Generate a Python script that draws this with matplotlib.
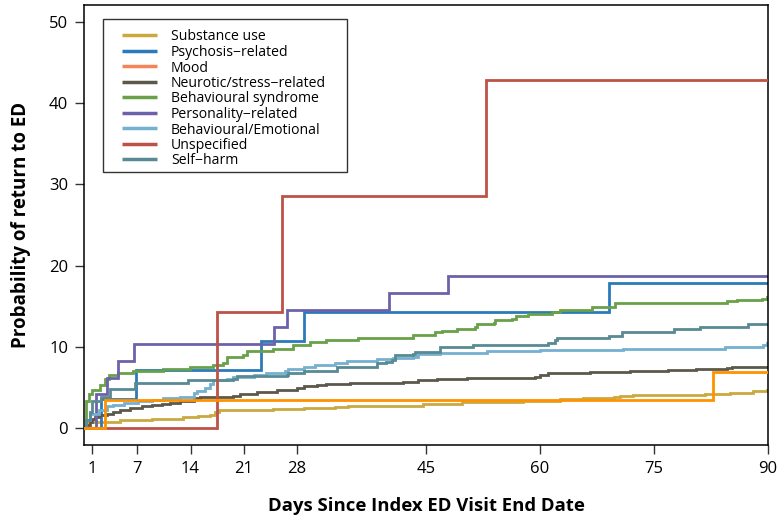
import matplotlib
matplotlib.use("Agg")
import matplotlib.pyplot as plt
from matplotlib.patches import Rectangle

plt.rcParams['font.family'] = ['Open Sans', 'DejaVu Sans']

# Cumulative probability (%) of return to ED by diagnostic group: step times (days) and levels
labels = ["Substance use", "Psychosis\u2212related", "Mood", "Neurotic/stress\u2212related",
          "Behavioural syndrome", "Personality\u2212related", "Behavioural/Emotional",
          "Unspecified", "Self\u2212harm"]

substance_days = [0, 0.3, 0.6, 4.7, 8.9, 10.4, 13.0, 15.0, 16.5, 17.2, 17.8, 21.0, 24.9, 28.9,
                  33.0, 34.7, 40.0, 44.6, 49.7, 57.8, 62.6, 65.7, 69.7, 70.6, 72.3, 81.7, 85.0,
                  88.1, 89.9]
substance_vals = [0, 0.6, 0.8, 1.0, 1.1, 1.2, 1.35, 1.5, 1.65, 2.0, 2.2, 2.3, 2.4, 2.5,
                  2.6, 2.7, 2.8, 3.0, 3.2, 3.35, 3.6, 3.7, 3.8, 4.0, 4.1, 4.2, 4.4,
                  4.55, 4.7]

psychosis_days = [0, 2.2, 6.8, 23.3, 29.0, 69.1]
psychosis_vals = [0, 3.57, 7.14, 10.71, 14.29, 17.86]

mood_days = [0, 2.75, 82.8]
mood_vals = [0, 3.45, 6.9]

neurotic_days = [0, 0.3, 0.7, 1.0, 1.4, 1.9, 3.0, 3.8, 4.7, 6.0, 7.6, 8.9, 10.2, 11.3, 12.6,
                 14.4, 15.3, 19.6, 20.5, 22.7, 25.4, 28.0, 28.9, 30.6, 31.9, 35.0, 42.0, 44.0,
                 46.4, 50.4, 55.2, 59.4, 60.0, 61.1, 66.6, 71.9, 74.9, 76.9, 80.6, 84.6, 85.3]
neurotic_vals = [0, 0.4, 0.8, 1.1, 1.35, 1.6, 1.8, 2.0, 2.25, 2.5, 2.7, 2.9, 3.0, 3.1, 3.4,
                 3.7, 3.85, 4.0, 4.2, 4.5, 4.7, 5.0, 5.2, 5.3, 5.5, 5.6, 5.7, 5.9,
                 6.05, 6.15, 6.25, 6.35, 6.55, 6.8, 6.9, 7.0, 7.1, 7.2, 7.3, 7.4, 7.5]

behav_syn_days = [0, 0.3, 0.6, 1.0, 2.1, 2.7, 3.2, 4.5, 6.4, 10.4, 13.9, 17.0, 18.3, 18.8,
                  20.9, 21.4, 24.9, 27.5, 29.7, 31.9, 36.0, 43.3, 46.2, 47.1, 49.1, 51.5,
                  51.7, 53.9, 54.1, 56.3, 56.8, 58.5, 61.6, 62.7, 66.8, 69.9, 84.6, 85.9,
                  89.2, 89.9]
behav_syn_vals = [0, 3.3, 4.2, 4.7, 5.3, 6.1, 6.6, 6.8, 7.0, 7.3, 7.5, 7.8, 8.0, 8.8,
                  9.0, 9.5, 9.7, 10.2, 10.6, 10.9, 11.1, 11.5, 11.8, 12.0, 12.2, 12.5,
                  12.8, 13.0, 13.3, 13.5, 13.8, 14.1, 14.3, 14.6, 14.9, 15.4, 15.6, 15.8,
                  15.9, 16.1]

personality_days = [0, 1.5, 3.0, 4.4, 6.5, 25.0, 26.75, 40.2, 47.9]
personality_vals = [0, 4.17, 6.25, 8.33, 10.42, 12.5, 14.58, 16.67, 18.75]

behav_emo_days = [0, 0.3, 0.8, 1.9, 3.0, 3.8, 5.2, 7.1, 8.9, 10.4, 12.6, 14.4, 14.8, 15.9,
                  16.6, 17.0, 18.8, 19.6, 22.3, 24.0, 26.4, 26.9, 28.9, 30.4, 33.0, 34.6,
                  38.5, 40.7, 43.3, 44.0, 44.7, 46.9, 53.0, 60.0, 71.0, 84.4, 89.4, 89.9]
behav_emo_vals = [0, 1.0, 1.8, 2.3, 2.7, 2.9, 3.1, 3.4, 3.5, 3.7, 3.9, 4.3, 4.6, 4.9,
                  5.4, 5.9, 6.1, 6.3, 6.6, 6.8, 7.0, 7.3, 7.5, 7.8, 8.0, 8.3,
                  8.5, 8.6, 8.8, 9.1, 9.2, 9.3, 9.5, 9.6, 9.8, 10.0, 10.2, 10.5]

unspecified_days = [0, 17.45, 26.0, 52.9]
unspecified_vals = [0, 14.29, 28.57, 42.86]

selfharm_days = [0, 0.3, 0.7, 1.0, 2.2, 3.4, 6.7, 13.7, 19.6, 20.1, 26.7, 26.9, 28.9, 33.3,
                 38.5, 39.8, 40.5, 40.9, 43.3, 43.6, 46.9, 51.2, 61.1, 62.0, 62.2, 69.1,
                 70.8, 77.7, 81.1, 87.4]
selfharm_vals = [0, 1.0, 2.0, 3.3, 3.9, 4.8, 5.6, 5.9, 6.1, 6.4, 6.6, 6.8, 7.1, 7.5,
                 8.0, 8.2, 8.4, 9.0, 9.1, 9.4, 10.0, 10.2, 10.5, 10.9, 11.1, 11.4,
                 11.8, 12.2, 12.5, 12.8]

x_ticks = [1, 7, 14, 21, 28, 45, 60, 75, 90]
y_ticks = [0, 10, 20, 30, 40, 50]
follow_up_end = 90

series_days = [substance_days, psychosis_days, mood_days, neurotic_days, behav_syn_days,
               personality_days, behav_emo_days, unspecified_days, selfharm_days]
series_vals = [substance_vals, psychosis_vals, mood_vals, neurotic_vals, behav_syn_vals,
               personality_vals, behav_emo_vals, unspecified_vals, selfharm_vals]

line_colors = ["#C9A940", "#2B7BBA", "#FF9200", "#5C584B", "#68A147",
               "#6C62AA", "#74B0D0", "#BC5248", "#588A93"]
legend_colors = ["#C9A940", "#2B7BBA", "#F4845A", "#5C584B", "#68A147",
                 "#6C62AA", "#74B0D0", "#BC5248", "#588A93"]
z_order = [2, 2, 4, 2, 2, 2, 2, 3, 2]

W, H = 783, 523
fig = plt.figure(figsize=(W / 100, H / 100), dpi=100)
ax_left, ax_right, ax_top, ax_bottom = 84.2, 767.7, 5.4, 444.6
ax = fig.add_axes([ax_left / W, 1 - ax_bottom / H,
                   (ax_right - ax_left) / W, (ax_bottom - ax_top) / H])

for d, v, c, z in zip(series_days, series_vals, line_colors, z_order):
    ax.step(list(d) + [follow_up_end], list(v) + [v[-1]], where="post",
            color=c, lw=2.0, zorder=z, solid_joinstyle="miter")

ax.set_xlim(0, 90)
ax.set_ylim(-2, 52)
ax.set_xticks(x_ticks)
ax.set_yticks(y_ticks)
ax.tick_params(axis="both", direction="out", length=6.5, width=1.0, pad=5,
               labelsize=12, color="#333333")
for s in ax.spines.values():
    s.set_linewidth(1.1)
    s.set_color("black")

ax.set_xlabel("Days Since Index ED Visit End Date", fontsize=13.3, fontweight="bold",
              labelpad=15)
ax.set_ylabel("Probability of return to ED", fontsize=13.5, fontweight="bold", labelpad=13)


# Legend box drawn in axes-fraction coordinates, positioned by pixel offsets
def to_axes(px, py):
    return ((px - ax_left) / (ax_right - ax_left), (ax_bottom - py) / (ax_bottom - ax_top))


x0, y0 = to_axes(103, 172)
x1, y1 = to_axes(347, 19)
ax.add_patch(Rectangle((x0, y0), x1 - x0, y1 - y0, transform=ax.transAxes,
                       facecolor="white", edgecolor="#333333", lw=1.0, zorder=10))
row0, row_step = 35.0, 15.5
for i, (lab, c) in enumerate(zip(labels, legend_colors)):
    py = row0 + i * row_step
    hx0, hy = to_axes(122, py)
    hx1, _ = to_axes(157, py)
    ax.plot([hx0, hx1], [hy, hy], color=c, lw=2.5, transform=ax.transAxes,
            solid_capstyle="butt", zorder=11)
    tx, ty = to_axes(171, py)
    ax.text(tx, ty, lab, transform=ax.transAxes, fontsize=10.1, va="center_baseline",
            ha="left", zorder=11)

fig.savefig("out.png", dpi=100)
